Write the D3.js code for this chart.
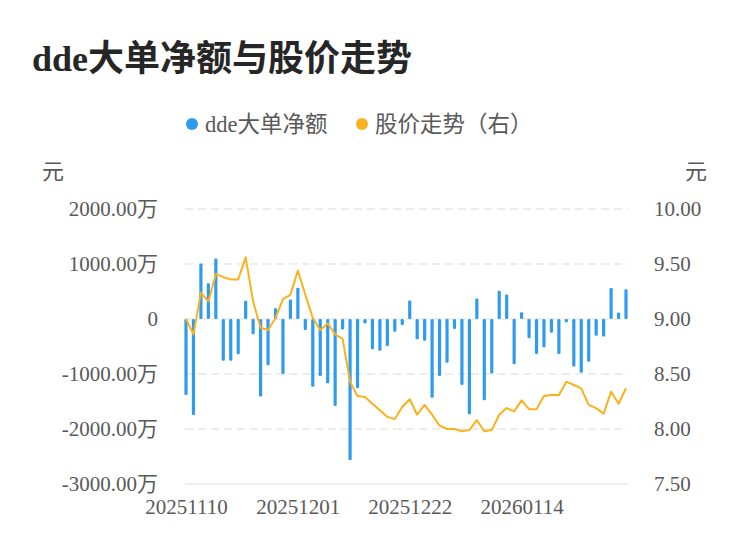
<!DOCTYPE html>
<html>
<head>
<meta charset="utf-8">
<script src="https://cdn.jsdelivr.net/npm/d3@7"></script>
<style>
  body { margin: 0; background: #fff; }
  svg { display: block; font-family: "Liberation Serif", "Noto Sans CJK SC", serif; }
</style>
</head>
<body>
<svg id="chart" width="750" height="558"></svg>
<script>
// trading days shown on the x axis
const dates = [
  "20251110","20251111","20251112","20251113","20251114",
  "20251117","20251118","20251119","20251120","20251121",
  "20251124","20251125","20251126","20251127","20251128",
  "20251201","20251202","20251203","20251204","20251205",
  "20251208","20251209","20251210","20251211","20251212",
  "20251215","20251216","20251217","20251218","20251219",
  "20251222","20251223","20251224","20251225","20251226",
  "20251229","20251230","20251231","20260105","20260106",
  "20260107","20260108","20260109","20260112","20260113",
  "20260114","20260115","20260116","20260119","20260120",
  "20260121","20260122","20260123","20260126","20260127",
  "20260128","20260129","20260130","20260202","20260203"
];
// dde net large orders, in 万元
const ddeNet = [
  -1380, -1745, 1010, 650, 1100, -760, -760, -640, 330, -275,
  -1410, -840, 195, -1000, 355, 570, -200, -1230, -1035, -1170,
  -1580, -190, -2565, -1260, -80, -550, -575, -490, -230, -110,
  335, -370, -395, -1430, -1035, -795, -180, -1200, -1730, 375,
  -1475, -990, 515, 445, -820, 125, -350, -635, -515, -250,
  -635, -60, -865, -975, -775, -305, -320, 565, 120, 540
];
// closing price, 元
const price = [
  9.00, 8.86, 9.24, 9.16, 9.41, 9.38, 9.36, 9.36, 9.56, 9.16,
  8.92, 8.90, 9.01, 9.18, 9.22, 9.44, 9.22, 9.01, 8.90, 8.96,
  8.86, 8.82, 8.43, 8.30, 8.29, 8.23, 8.17, 8.11, 8.09, 8.20,
  8.27, 8.13, 8.22, 8.13, 8.03, 8.00, 8.00, 7.98, 7.99, 8.08,
  7.98, 7.99, 8.13, 8.19, 8.16, 8.26, 8.18, 8.18, 8.30, 8.31,
  8.31, 8.43, 8.40, 8.37, 8.22, 8.19, 8.14, 8.34, 8.23, 8.37
];
const leftTicks = [-3000, -2000, -1000, 0, 1000, 2000];
const rightTicks = [7.5, 8, 8.5, 9, 9.5, 10];
const xTickDates = ["20251110", "20251201", "20251222", "20260114"];

const blue = "#2f9bef";
const orange = "#f9b21d";
const textCol = "#595959";
const fontStack = '"Liberation Serif", "Noto Sans CJK SC", serif';

const svg = d3.select("#chart");
const plot = { left: 186, right: 626, top: 209, bottom: 484 };

const x = d3.scalePoint().domain(dates).range([plot.left, plot.right]);
const yL = d3.scaleLinear().domain([-3000, 2000]).range([plot.bottom, plot.top]);
const yR = d3.scaleLinear().domain([7.5, 10]).range([plot.bottom, plot.top]);

// title
svg.append("text")
  .attr("x", 32).attr("y", 71)
  .attr("font-size", 36).attr("font-weight", "bold")
  .attr("fill", "#262626")
  .text("dde大单净额与股价走势");

// legend
const legend = [
  { label: "dde大单净额", color: blue, x: 192 },
  { label: "股价走势（右）", color: orange, x: 362 }
];
const lg = svg.append("g").selectAll("g").data(legend).enter().append("g");
lg.append("circle").attr("cx", d => d.x).attr("cy", 124).attr("r", 6).attr("fill", d => d.color);
lg.append("text")
  .attr("x", d => d.x + 13).attr("y", 132)
  .attr("font-size", 22.5).attr("fill", textCol)
  .text(d => d.label);

// unit labels
svg.append("text").attr("x", 42).attr("y", 179).attr("font-size", 22).attr("fill", textCol).text("元");
svg.append("text").attr("x", 685).attr("y", 179).attr("font-size", 22).attr("fill", textCol).text("元");

// grid lines
svg.append("g").selectAll("line")
  .data(leftTicks)
  .enter().append("line")
  .attr("x1", plot.left - 1).attr("x2", plot.right + 2)
  .attr("y1", d => yL(d)).attr("y2", d => yL(d))
  .attr("stroke", "#e8e8e8").attr("stroke-width", 1.5)
  .attr("stroke-dasharray", d => d === -3000 ? null : "8,5");

function styleAxis(g) {
  g.attr("font-family", fontStack).attr("font-size", 21);
  g.select(".domain").remove();
  g.selectAll("text").attr("fill", textCol);
}

// left axis (plain hyphen for negatives, as in the source)
const leftAxis = d3.axisLeft(yL)
  .tickValues(leftTicks)
  .tickSize(0).tickPadding(0)
  .tickFormat(d => d === 0 ? "0" : d.toFixed(2) + "万");
svg.append("g").attr("transform", "translate(158,0)").call(leftAxis).call(styleAxis);

// right axis
const rightAxis = d3.axisRight(yR)
  .tickValues(rightTicks)
  .tickSize(0).tickPadding(0)
  .tickFormat(d => d.toFixed(2));
svg.append("g").attr("transform", "translate(654,0)").call(rightAxis).call(styleAxis);

// x axis
const xAxis = d3.axisBottom(x).tickValues(xTickDates).tickSize(0).tickPadding(0);
svg.append("g").attr("transform", "translate(0,499)").call(xAxis).call(styleAxis);

// bars
svg.append("g").selectAll("rect")
  .data(ddeNet)
  .enter().append("rect")
  .attr("x", (d, i) => x(dates[i]) - 1.6)
  .attr("width", 3.2)
  .attr("y", d => Math.min(yL(d), yL(0)))
  .attr("height", d => Math.abs(yL(d) - yL(0)))
  .attr("rx", 1.2)
  .attr("fill", blue);

// price line
const line = d3.line()
  .x((d, i) => x(dates[i]))
  .y(d => yR(d));
svg.append("path")
  .datum(price)
  .attr("d", line)
  .attr("fill", "none")
  .attr("stroke", orange)
  .attr("stroke-width", 2)
  .attr("stroke-linejoin", "round");
</script>
</body>
</html>
